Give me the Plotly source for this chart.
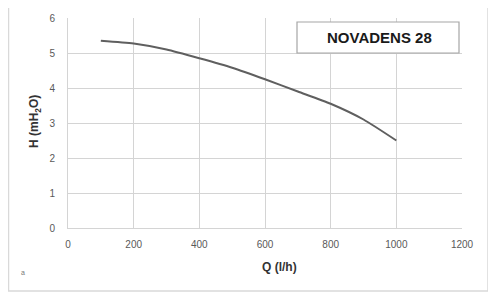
import plotly.graph_objects as go

q_values = [100, 200, 300, 400, 500, 600, 700, 800, 900, 1000]
h_values = [5.35, 5.27, 5.1, 4.85, 4.58, 4.25, 3.9, 3.55, 3.1, 2.5]
x_ticks = [0, 200, 400, 600, 800, 1000, 1200]
y_ticks = [0, 1, 2, 3, 4, 5, 6]
series_name = "NOVADENS 28"

# page body has an 8px default margin; figure sized to fit the window
OFF = 8
W, H = 488, 286
L, R, T, B = 60, 34, 10, 66
pw, ph = W - L - R, H - T - B


def px(x):  # screen pixel -> paper coordinate
    return (x - OFF - L) / pw


def py(y):
    return (H - B - (y - OFF)) / ph


FONT = "Liberation Sans, Arial, sans-serif"

fig = go.Figure()
fig.add_trace(go.Scatter(
    x=q_values, y=h_values, mode="lines", name=series_name,
    line=dict(color="#5f5f5f", width=2, shape="spline", smoothing=0.6),
    showlegend=False,
))

fig.update_layout(
    width=W, height=H,
    margin=dict(l=L, r=R, t=T, b=B),
    paper_bgcolor="white", plot_bgcolor="white",
    font=dict(family=FONT, color="#595959", size=10),
    xaxis=dict(range=[0, 1200], tickvals=x_ticks, showgrid=True, gridcolor="#d4d4d4",
               gridwidth=1, zeroline=False, showline=True, linecolor="#d4d4d4",
               ticks="", tickfont=dict(size=10, color="#595959"), ticklabelstandoff=7,
               fixedrange=True, automargin=False),
    yaxis=dict(range=[0, 6], tickvals=y_ticks, showgrid=True, gridcolor="#d4d4d4",
               gridwidth=1, zeroline=False, showline=True, linecolor="#d4d4d4",
               ticks="", tickfont=dict(size=10, color="#595959"), ticklabelstandoff=10,
               fixedrange=True, automargin=False),
    shapes=[
        dict(type="rect", xref="paper", yref="paper",
             x0=px(8.5), x1=px(488), y0=py(291), y1=py(3.5),
             line=dict(color="#d9d9d9", width=1.5), fillcolor="rgba(0,0,0,0)", layer="below"),
        dict(type="rect", xref="paper", yref="paper",
             x0=px(297), x1=px(459), y0=py(53), y1=py(22),
             line=dict(color="#a6a6a6", width=1.2), fillcolor="white", layer="above"),
    ],
    annotations=[
        dict(text="<b>" + series_name + "</b>", xref="paper", yref="paper",
             x=px(379), y=py(37), xanchor="center", yanchor="middle", showarrow=False,
             font=dict(size=15, color="#1a1a1a", family=FONT)),
        dict(text="<b>H (mH<sub>2</sub>O)</b>", xref="paper", yref="paper",
             x=px(35), y=py(122), xanchor="center", yanchor="middle",
             textangle=-90, showarrow=False,
             font=dict(size=12, color="#333333", family=FONT)),
        dict(text="<b>Q (l/h)</b>", xref="paper", yref="paper",
             x=px(279), y=py(267), xanchor="center", yanchor="middle", showarrow=False,
             font=dict(size=12, color="#333333", family=FONT)),
        dict(text="a", xref="paper", yref="paper",
             x=px(23), y=py(272), xanchor="center", yanchor="middle", showarrow=False,
             font=dict(size=7, color="#777777")),
    ],
)

fig.write_html("out.html")
